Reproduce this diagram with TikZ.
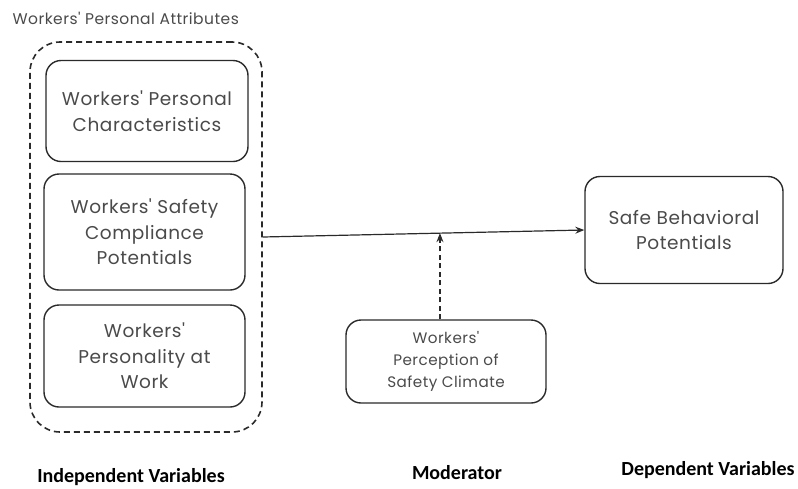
\documentclass[tikz,border=0pt]{standalone}
\usepackage{fontspec}
\setmainfont{Poppins}
\newfontfamily\boxfont[LetterSpace=3]{Poppins}
\newfontfamily\labfont{Carlito}
\usetikzlibrary{arrows.meta}
\definecolor{txt}{HTML}{4A4A4A}
\definecolor{ln}{HTML}{2A2A2A}
\begin{document}
\begin{tikzpicture}[x=1pt,y=-1pt,
  rbox/.style={draw=ln, line width=1.4pt, rounded corners=15pt, align=center, text=txt, inner sep=0pt},
  grpbox/.style={draw=ln, line width=1.6pt, dash pattern=on 6pt off 4pt, rounded corners=30pt, inner sep=0pt},
  bigtxt/.style={font=\boxfont\fontsize{18.5}{25.5}\selectfont},
  smtxt/.style={font=\boxfont\fontsize{15.2}{22}\selectfont},
  lab/.style={font=\labfont\bfseries\fontsize{20}{24}\selectfont, text=black, inner sep=0pt},
  tip/.style={-{Stealth[length=9pt,width=7pt]}}]
\useasboundingbox (0,0) rectangle (798,488);
\node[anchor=west, text=txt, font=\boxfont\fontsize{15.5}{18}\selectfont] (ttl) at (9,18) {Workers' Personal Attributes};
\node[grpbox, minimum width=232pt, minimum height=390pt] (grp) at (146,237) {};
\node[rbox, bigtxt, minimum width=202pt, minimum height=101pt] (b1) at (147,111) {Workers' Personal\\Characteristics};
\node[rbox, bigtxt, minimum width=201pt, minimum height=116pt] (b2) at (144.5,232) {Workers' Safety\\Compliance\\Potentials};
\node[rbox, bigtxt, minimum width=201pt, minimum height=102pt] (b3) at (144.5,356) {Workers'\\Personality at\\Work};
\node[rbox, bigtxt, minimum width=198pt, minimum height=107pt] (dep) at (684,230) {Safe Behavioral\\Potentials};
\node[rbox, smtxt, minimum width=200pt, minimum height=83pt] (mod) at (446,361.5) {Workers'\\Perception of\\Safety Climate};
\draw[ln, line width=1.2pt, tip] (grp.east) -- coordinate[pos=0.551] (m) (dep.west);
\draw[ln, line width=1.2pt, dash pattern=on 5pt off 3.5pt, tip] (m |- mod.north) -- (m);
\node[lab] (l1) at (131,477) {Independent Variables};
\node[lab] (l2) at (457,473) {Moderator};
\node[lab] (l3) at (708,470) {Dependent Variables};
\end{tikzpicture}
\end{document}
